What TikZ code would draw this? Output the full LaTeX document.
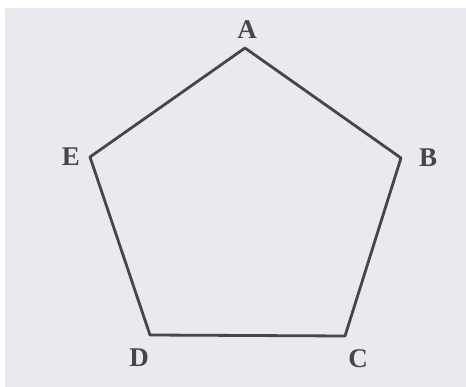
\documentclass[tikz,border=0pt]{standalone}
\usepackage{fontspec}
\setmainfont{Liberation Serif}
\definecolor{paper}{RGB}{236,232,240}
\definecolor{ink}{RGB}{70,70,72}
\begin{document}
\begin{tikzpicture}[x=1pt,y=-1pt,
  edge/.style={draw=ink, line width=2.8pt, line join=round},
  lbl/.style={font=\fontsize{27}{29}\selectfont\bfseries, text=ink, inner sep=0pt}]
\fill[paper] (0,0) rectangle (466,387);
\fill[white] (0,0) rectangle (466,8);
\fill[white] (0,0) rectangle (5,387);
\coordinate (A) at (245,48);
\coordinate (B) at (401,158);
\coordinate (C) at (345,336);
\coordinate (D) at (150,335);
\coordinate (E) at (90,157);
\draw[edge] (A) -- (B) -- (C) -- (D) -- (E) -- cycle;
\node[lbl] (lA) at (247,30) {A};
\node[lbl] (lB) at (428,158) {B};
\node[lbl] (lC) at (358,359) {C};
\node[lbl] (lD) at (139,358) {D};
\node[lbl] (lE) at (71,157) {E};
\end{tikzpicture}
\end{document}
